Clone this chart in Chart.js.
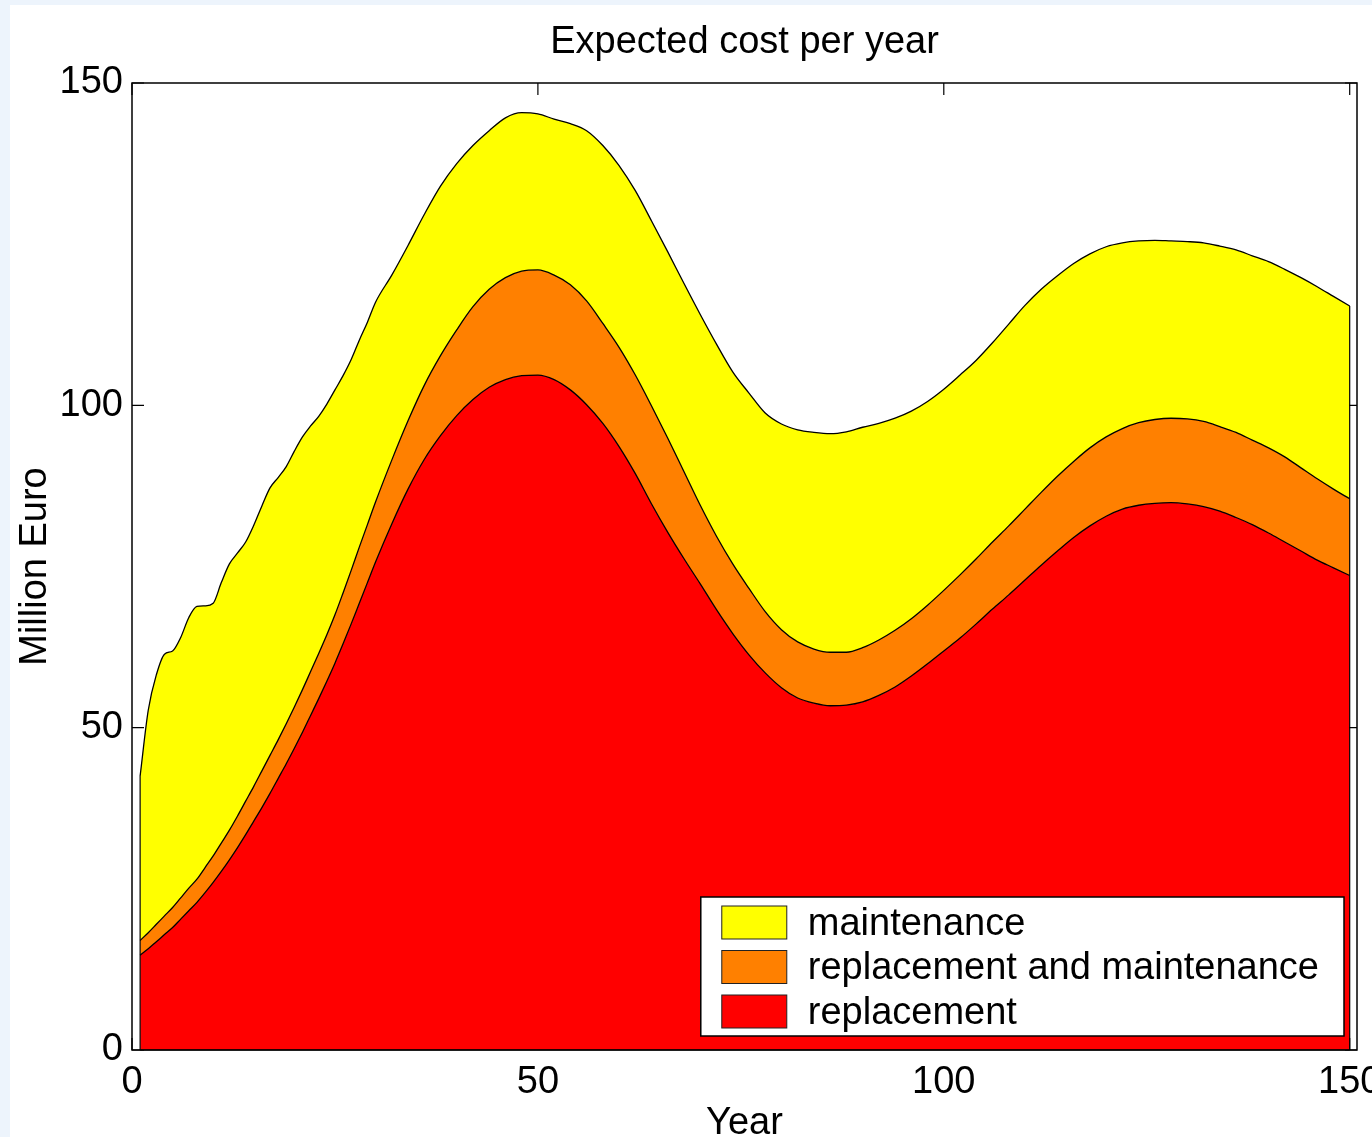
<!DOCTYPE html>
<html>
<head>
<meta charset="utf-8">
<title>Expected cost per year</title>
<script src="https://cdn.jsdelivr.net/npm/chart.js@4.4.1/dist/chart.umd.min.js"></script>
<style>
  html, body { margin: 0; padding: 0; overflow: hidden; background: #edf4fc; }
  #sheet { position: absolute; left: 10px; top: 5px; width: 1362px; height: 1132px; background: #ffffff; }
  #wrap { position: absolute; left: 0; top: 0; width: 1372px; height: 1137px; }
</style>
</head>
<body>
<div id="sheet"></div>
<div id="wrap"><canvas id="chart" width="1372" height="1137"></canvas></div>
<script>
// Years on the horizontal axis
const years = [1,2,3,4,5,6,7,8,9,10,11,12,13,14,15,16,17,18,19,20,21,22,23,24,25,26,27,28,29,30,
  32,34,36,38,40,42,44,46,48,50,52,54,56,58,60,62,64,66,68,70,72,74,76,78,80,82,84,86,88,90,
  92,94,96,98,100,102,104,106,108,110,112,114,116,118,120,122,124,126,128,130,132,134,136,138,140,
  142,144,146,148,150];

// Expected yearly cost per category, million euro
const replacement = [14.7,15.7,16.8,17.9,19.0,20.3,21.6,22.9,24.4,26.0,27.7,29.5,31.4,33.4,35.5,37.6,39.8,42.1,44.4,46.8,
  49.3,51.9,54.5,57.2,60.0,63.0,66.1,69.3,72.5,75.7,
  81.6,87.0,91.6,95.3,98.4,100.9,102.8,104.0,104.6,104.7,104.0,102.4,100.1,97.2,93.6,89.4,84.7,80.3,76.2,72.3,
  68.3,64.6,61.3,58.5,56.2,54.6,53.8,53.4,53.5,54.0,55.0,56.3,58.0,59.9,61.9,63.9,66.1,68.4,70.6,72.9,
  75.2,77.4,79.5,81.3,82.8,83.9,84.5,84.8,84.9,84.7,84.3,83.6,82.6,81.5,80.2,78.8,77.4,76.0,74.8,73.6];

const replacementAndMaintenance = [2.3,2.5,2.7,2.9,3.1,3.3,3.5,3.6,3.9,4.1,4.4,4.6,4.9,5.2,5.4,5.7,5.9,6.0,6.2,6.4,
  6.6,6.8,7.0,7.2,7.5,7.9,8.3,8.7,9.0,9.3,
  9.9,10.6,11.5,12.4,13.3,14.4,15.2,15.8,16.2,16.3,16.2,16.3,16.1,15.5,15.4,15.3,15.2,14.6,13.5,12.2,
  11.4,10.8,10.3,9.5,9.0,8.7,8.4,8.3,8.2,8.4,8.6,8.8,8.9,9.1,9.4,9.8,10.1,10.4,10.7,11.0,
  11.3,11.6,11.8,12.1,12.3,12.5,12.8,13.0,13.1,13.2,13.2,13.1,13.2,13.1,13.2,13.2,12.9,12.6,12.2,11.9];

const maintenance = [25.5,34.5,38.7,40.6,39.8,40.4,42.0,42.3,40.6,39.2,40.4,41.3,40.8,40.2,40.5,41.1,41.5,40.7,39.9,39.7,
  39.2,38.1,36.8,35.8,34.9,33.7,32.7,32.1,31.4,31.0,
  28.7,27.2,26.5,26.3,25.8,25.0,24.6,24.8,24.6,24.2,24.2,25.0,26.4,27.6,28.2,28.6,28.7,28.9,29.2,29.6,
  29.8,29.8,30.3,30.8,31.9,32.9,33.6,33.9,34.2,34.2,33.6,32.9,32.2,31.6,31.2,31.0,30.8,30.9,31.3,31.6,
  31.5,31.1,30.7,30.1,29.5,28.8,28.2,27.8,27.5,27.5,27.7,28.0,28.3,28.6,28.9,29.1,29.5,29.8,29.9,29.9];

const seriesNames = ['replacement', 'replacement and maintenance', 'maintenance'];
const seriesColors = ['#ff0000', '#ff8000', '#ffff00'];
const xTicks = [0, 50, 100, 150];
const yTicks = [0, 50, 100, 150];

const FONT = '"Liberation Sans", Arial, Helvetica, sans-serif';
const TICK_LEN = 12;

const toPoints = values => values.map((v, i) => ({ x: years[i], y: v }));

// Inward ticks on all four sides, the outline of the areas, the axes box and the legend
const framePlugin = {
  id: 'frame',
  beforeDatasetsDraw(chart) {
    const { ctx, chartArea: a, scales: { x, y } } = chart;
    ctx.save();
    ctx.strokeStyle = '#000';
    ctx.lineWidth = 1.2;
    ctx.beginPath();
    xTicks.forEach(v => {
      const px = x.getPixelForValue(v);
      ctx.moveTo(px, a.bottom); ctx.lineTo(px, a.bottom - TICK_LEN);
      ctx.moveTo(px, a.top); ctx.lineTo(px, a.top + TICK_LEN);
    });
    yTicks.forEach(v => {
      const py = y.getPixelForValue(v);
      ctx.moveTo(a.left, py); ctx.lineTo(a.left + TICK_LEN, py);
      ctx.moveTo(a.right, py); ctx.lineTo(a.right - TICK_LEN, py);
    });
    ctx.stroke();
    ctx.restore();
  },
  afterDatasetsDraw(chart) {
    const { ctx, chartArea: a, scales: { y } } = chart;
    const topMeta = chart.getDatasetMeta(chart.data.datasets.length - 1);
    const pts = topMeta.data;
    const y0 = y.getPixelForValue(0);
    ctx.save();
    ctx.strokeStyle = '#000';
    ctx.lineWidth = 1.2;
    ctx.beginPath();
    [pts[0], pts[pts.length - 1]].forEach(p => {
      ctx.moveTo(p.x, y0); ctx.lineTo(p.x, p.y);
    });
    ctx.moveTo(pts[0].x, y0); ctx.lineTo(pts[pts.length - 1].x, y0);
    ctx.stroke();
    ctx.lineWidth = 1.5;
    ctx.strokeRect(a.left, a.top, a.right - a.left, a.bottom - a.top);
    ctx.restore();
  },
  afterDraw(chart) {
    const { ctx, chartArea: a } = chart;
    const ds = chart.data.datasets;
    const order = ds.map((d, i) => i).reverse();
    ctx.save();
    ctx.font = '38px ' + FONT;
    const textW = Math.max(...order.map(i => ctx.measureText(ds[i].label).width));
    const padL = 21, padR = 25, swW = 65, swH = 33, gap = 21, rowH = 44.5, boxH = 139;
    const right = a.right - 13, bottom = a.bottom - 14;
    const w = padL + swW + gap + textW + padR;
    const left = right - w, top = bottom - boxH;
    ctx.fillStyle = '#ffffff';
    ctx.fillRect(left, top, w, boxH);
    ctx.strokeStyle = '#000';
    ctx.lineWidth = 1.5;
    ctx.strokeRect(left, top, w, boxH);
    ctx.textBaseline = 'middle';
    ctx.textAlign = 'left';
    order.forEach((i, r) => {
      const cy = top + 25.5 + r * rowH;
      ctx.fillStyle = ds[i].backgroundColor;
      ctx.fillRect(left + padL, cy - swH / 2, swW, swH);
      ctx.lineWidth = 1;
      ctx.strokeStyle = '#222';
      ctx.strokeRect(left + padL, cy - swH / 2, swW, swH);
      ctx.fillStyle = '#000';
      ctx.fillText(ds[i].label, left + padL + swW + gap, cy + 2);
    });
    ctx.restore();
  }
};

const seriesValues = [replacement, replacementAndMaintenance, maintenance];

new Chart(document.getElementById('chart'), {
  type: 'line',
  data: {
    datasets: seriesValues.map((vals, i) => ({
      label: seriesNames[i],
      data: toPoints(vals),
      backgroundColor: seriesColors[i],
      borderColor: '#000000',
      borderWidth: 1.3,
      fill: i === 0 ? 'origin' : '-1',
      pointRadius: 0,
      cubicInterpolationMode: 'monotone'
    }))
  },
  options: {
    responsive: false,
    animation: false,
    events: [],
    layout: { padding: { left: 0, right: 15, top: 0, bottom: 0 } },
    plugins: {
      legend: { display: false },
      tooltip: { enabled: false },
      title: {
        display: true,
        text: 'Expected cost per year',
        color: '#000',
        fullSize: false,
        font: { family: FONT, size: 38, weight: 'normal', lineHeight: 1.2 },
        padding: { top: 20, bottom: 17.4 }
      }
    },
    scales: {
      x: {
        type: 'linear',
        min: 0,
        max: 150.9,
        grid: { display: false, drawTicks: false, tickLength: 0 },
        border: { display: false },
        afterBuildTicks: s => { s.ticks = xTicks.map(v => ({ value: v })); },
        afterFit: s => { s.height = 87; s.paddingLeft = 0; s.paddingRight = 0; },
        ticks: {
          color: '#000',
          padding: 10,
          maxRotation: 0,
          autoSkip: false,
          font: { family: FONT, size: 38, lineHeight: 1.2 }
        },
        title: {
          display: true,
          text: 'Year',
          color: '#000',
          padding: { top: 0, bottom: 0 },
          font: { family: FONT, size: 38, lineHeight: 0.7 }
        }
      },
      y: {
        type: 'linear',
        stacked: true,
        min: 0,
        max: 150,
        grid: { display: false, drawTicks: false, tickLength: 0 },
        border: { display: false },
        afterBuildTicks: s => { s.ticks = yTicks.map(v => ({ value: v })); },
        afterFit: s => { s.width = 132; s.paddingTop = 0; s.paddingBottom = 0; },
        ticks: {
          color: '#000',
          padding: 9,
          font: { family: FONT, size: 38, lineHeight: 1.2 }
        },
        title: {
          display: true,
          text: 'Million Euro',
          color: '#000',
          padding: { top: 13, bottom: 0 },
          font: { family: FONT, size: 38, lineHeight: 1.2 }
        }
      }
    }
  },
  plugins: [framePlugin]
});
</script>
</body>
</html>
